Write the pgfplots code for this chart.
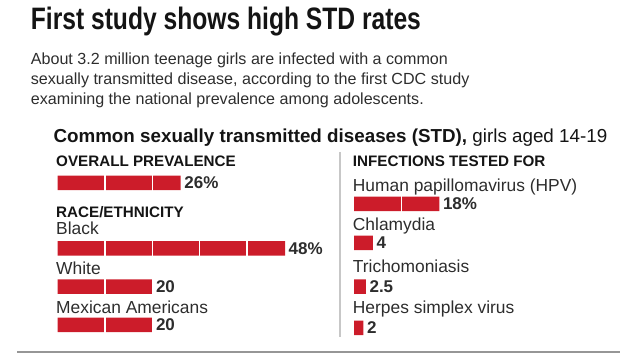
\documentclass[border=0pt]{standalone}
\usepackage{fontspec}
\setmainfont{Liberation Sans}
\usepackage{pgfplots}
\usepackage{pgfplotstable}
\pgfplotsset{compat=1.18}
\definecolor{barred}{RGB}{204,28,42}
\definecolor{txt}{RGB}{45,45,45}
\definecolor{ttl}{RGB}{20,20,20}
\definecolor{rulegray}{RGB}{150,150,150}

% value, vertical position of the row (pt), label
\pgfplotstableread{
val pos label
26 175 26\%
48 109.7 48\%
20 71.3 20
20 33 20
}\leftdata
\pgfplotstableread{
val pos label
18 154 18\%
4 115 4
2.5 71.3 2.5
2 30 2
}\rightdata

\pgfplotsset{
  rowaxis/.style={scale only axis, width=237pt, height=180pt,
    xmin=0, xmax=50, ymin=20, ymax=200, xbar, bar width=14.5pt,
    axis line style={draw=none}, tick style={draw=none},
    xtick={10,20,30,40}, ytick=\empty, xticklabels=\empty,
    clip=false, anchor=south west},
  gridaxis/.style={rowaxis, axis on top, xmajorgrids,
    grid style={white, line width=1.3pt}},
  labelplot/.style={draw=none, fill=none, nodes near coords,
    point meta=explicit symbolic, nodes near coords align={horizontal},
    every node near coord/.append style={font=\bfseries\fontsize{17}{17}\selectfont,
      text=txt, anchor=west, inner sep=0pt, xshift=3.5pt}},
}

\begin{document}
\begin{tikzpicture}
\path[use as bounding box] (0pt,0pt) rectangle (636pt,358pt);

% left bars
\begin{axis}[gridaxis, at={(57.5pt,20pt)}]
\addplot[fill=barred, draw=none] table[x=val,y=pos]{\leftdata};
\end{axis}
\begin{axis}[rowaxis, at={(57.5pt,20pt)}]
\addplot[labelplot] table[x=val,y=pos,meta=label]{\leftdata};
\end{axis}

% right bars
\begin{axis}[gridaxis, at={(354pt,20pt)}]
\addplot[fill=barred, draw=none] table[x=val,y=pos]{\rightdata};
\end{axis}
\begin{axis}[rowaxis, at={(354pt,20pt)}]
\addplot[labelplot] table[x=val,y=pos,meta=label]{\rightdata};
\end{axis}

% texts
\node[anchor=base west, inner sep=0pt, text=ttl] at (30.7pt,328.7pt)
  {\resizebox{390pt}{\height}{\fontsize{31}{31}\selectfont\bfseries First study shows high STD rates}};
\begin{scope}[every node/.style={anchor=base west, inner sep=0pt, text=txt, font=\fontsize{16.1}{16}\selectfont}]
\node at (30.7pt,293.5pt) {About 3.2 million teenage girls are infected with a common};
\node at (30.7pt,273.5pt) {sexually transmitted disease, according to the first CDC study};
\node at (30.7pt,253.5pt) {examining the national prevalence among adolescents.};
\end{scope}

\node[anchor=base west, inner sep=0pt, text=ttl, font=\fontsize{18.8}{18.8}\selectfont] at (53.3pt,215pt)
  {\textbf{Common sexually transmitted diseases (STD),} girls aged 14-19};

\begin{scope}[every node/.style={anchor=base west, inner sep=0pt, text=ttl, font=\bfseries\fontsize{15.2}{15.2}\selectfont}]
\node at (56pt,191.3pt) {OVERALL PREVALENCE};
\node at (56pt,140.7pt) {RACE/ETHNICITY};
\node at (352.7pt,191.3pt) {INFECTIONS TESTED FOR};
\end{scope}

\begin{scope}[every node/.style={anchor=base west, inner sep=0pt, text=txt, font=\fontsize{17.4}{17.4}\selectfont}]
\node at (56pt,123pt) {Black};
\node at (56pt,83pt) {White};
\node at (56pt,44.7pt) {Mexican Americans};
\node at (352.7pt,166.3pt) {Human papillomavirus (HPV)};
\node at (352.7pt,127.3pt) {Chlamydia};
\node at (352.7pt,85.7pt) {Trichomoniasis};
\node at (352.7pt,44.7pt) {Herpes simplex virus};
\end{scope}

\draw[black!22, line width=1.2pt] (340pt,206pt) -- (340pt,21pt);
\draw[rulegray, line width=1.8pt] (17pt,6pt) -- (620pt,6pt);
\end{tikzpicture}
\end{document}
